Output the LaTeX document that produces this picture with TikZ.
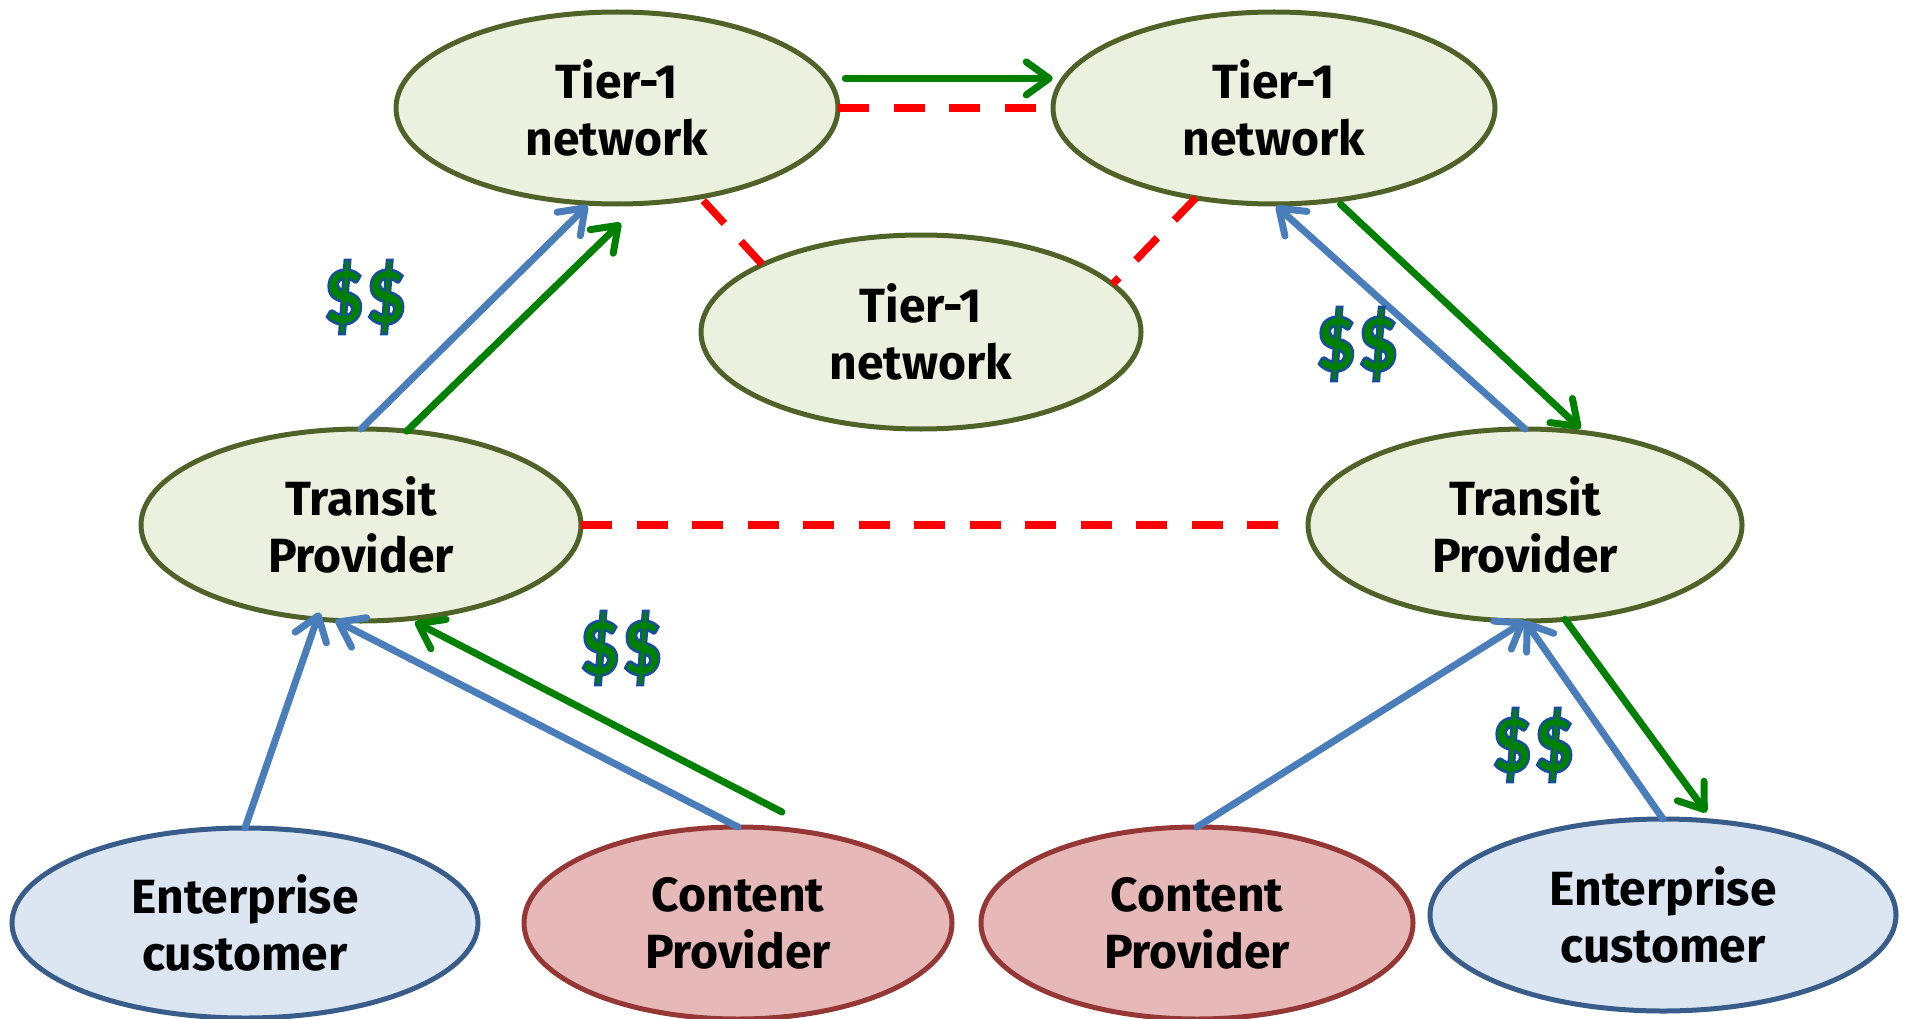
\documentclass[tikz,border=0pt]{standalone}
\usepackage{fontspec}
\usepackage{graphicx}
\setmainfont{Fira Sans}
% bold face stroked by the driver, so that the glyphs get an outline
\newfontfamily\cashfont{Carlito}[BoldFeatures={FakeBold=2.6}]
\usetikzlibrary{shapes.geometric,arrows.meta}

\definecolor{tierfill}{HTML}{EBF1DE}
\definecolor{tieredge}{HTML}{4F6228}
\definecolor{entfill}{HTML}{DCE6F2}
\definecolor{entedge}{HTML}{385D8A}
\definecolor{contfill}{HTML}{E6B9B8}
\definecolor{contedge}{HTML}{953735}
\definecolor{moneyblue}{HTML}{4A7EBB}
\definecolor{trafficgreen}{HTML}{008000}
\definecolor{peerred}{HTML}{FF0000}

% green glyphs with a blue stroke
\newcommand\money{\scalebox{1.04}[1.24]{\textcolor{trafficgreen}{\special{pdf:code 0.09 0.30 0.62 RG}\$\$}}}

\tikzset{
  cloud/.style={ellipse, line width=5pt, inner sep=0pt, outer sep=0pt,
    align=center, font=\fontsize{48}{57}\selectfont\bfseries},
  tier/.style={cloud, draw=tieredge, fill=tierfill},
  ent/.style={cloud, draw=entedge, fill=entfill},
  cont/.style={cloud, draw=contedge, fill=contfill},
  pays/.style={draw=moneyblue, line width=7pt, line cap=round,
    -{Straight Barb[length=23pt,width=33pt,round]}},
  flows/.style={draw=trafficgreen, line width=7pt, line cap=round,
    -{Straight Barb[length=23pt,width=33pt,round]}},
  peers/.style={draw=peerred, line width=7.5pt, dash pattern=on 31pt off 24.5pt},
  cash/.style={inner sep=0pt, font=\fontsize{80}{80}\selectfont\cashfont\bfseries}
}

\begin{document}
\begin{tikzpicture}[x=1pt,y=-1pt]
\path[use as bounding box] (0,0) rectangle (1910,1019);

% networks
\node[tier, minimum width=442pt, minimum height=192pt] (t1l) at (617,108) {Tier-1\\network};
\node[tier, minimum width=442pt, minimum height=192pt] (t1r) at (1274,108) {Tier-1\\network};
\node[tier, minimum width=440pt, minimum height=194pt] (t1m) at (921,332) {Tier-1\\network};
\node[tier, minimum width=440pt, minimum height=192pt] (tpl) at (361,525) {Transit\\Provider};
\node[tier, minimum width=434pt, minimum height=192pt] (tpr) at (1525,525) {Transit\\Provider};
\node[ent, minimum width=466pt, minimum height=190pt] (ecl) at (245,923) {Enterprise\\customer};
\node[cont, minimum width=428pt, minimum height=192pt] (cpl) at (738,923) {Content\\Provider};
\node[cont, minimum width=432pt, minimum height=192pt] (cpr) at (1197,923) {Content\\Provider};
\node[ent, minimum width=466pt, minimum height=192pt] (ecr) at (1663,915) {Enterprise\\customer};

% peering links
\draw[peers] (t1l.east) -- (t1r.west);
\draw[peers, shorten <=5pt] (t1l.-47) -- (t1m.157);
\draw[peers] (t1r.-131) -- (t1m.14);
\draw[peers, shorten >=17pt] (tpl.east) -- (tpr.west);

% traffic
\draw[flows, shorten <=18pt, shorten >=11pt] (t1l.8) -- (t1r.172);
\draw[flows, shorten >=28pt] (tpl.64) -- (t1l.-76);
\draw[flows, shorten <=6pt, shorten >=6pt] (t1r.-56) -- (tpr.57);
\draw[flows, shorten <=52pt, shorten >=7pt] (cpl.44) -- (tpl.-63);
\draw[flows, shorten >=11pt] (tpr.-67) -- (ecr.62);

% payments
\draw[pays, shorten >=3pt] (tpl.north) -- (t1l.-106);
\draw[pays, shorten >=3pt] (tpr.north) -- (t1r.south);
\draw[pays, shorten >=-7pt] (ecl.north) -- (tpl.-115);
\draw[pays] (cpl.north) -- (tpl.-105);
\draw[pays] (cpr.north) -- (tpr.south);
\draw[pays] (ecr.north) -- (tpr.south);

% money labels
\node[cash] (m1) at (365,297) {\money};
\node[cash] (m2) at (1357,344) {\money};
\node[cash] (m3) at (621,648) {\money};
\node[cash] (m4) at (1533,745) {\money};
\end{tikzpicture}
\end{document}
